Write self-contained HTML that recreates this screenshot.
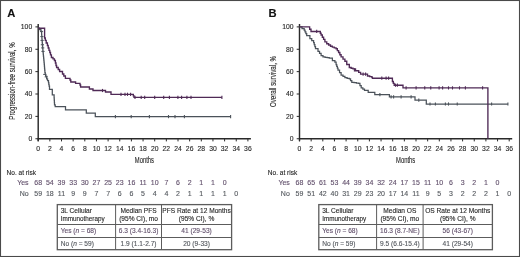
<!DOCTYPE html>
<html><head><meta charset="utf-8"><style>
html,body{margin:0;padding:0;background:#fff;}
svg{display:block;font-family:"Liberation Sans", sans-serif;filter:blur(0.42px);}
</style></head><body>
<svg width="520" height="257" viewBox="0 0 520 257">
<rect x="0" y="0" width="520" height="257" fill="#fff"/>
<text x="7.3" y="16.6" font-size="11.2" font-weight="bold" fill="#111" stroke="#111" stroke-width="0.12">A</text>
<line x1="38.2" y1="24" x2="38.2" y2="141.2" stroke="#2a2a2a" stroke-width="1.45"/>
<line x1="37.6" y1="138.75" x2="250.90" y2="138.75" stroke="#2a2a2a" stroke-width="1.45"/>
<line x1="35.400000000000006" y1="138.75" x2="38.2" y2="138.75" stroke="#2a2a2a" stroke-width="1"/>
<text x="32.2" y="141.15" text-anchor="end" font-size="6.8" fill="#282828" stroke="#282828" stroke-width="0.12">0</text>
<line x1="35.400000000000006" y1="116.38" x2="38.2" y2="116.38" stroke="#2a2a2a" stroke-width="1"/>
<text x="32.2" y="118.78" text-anchor="end" font-size="6.8" fill="#282828" stroke="#282828" stroke-width="0.12">20</text>
<line x1="35.400000000000006" y1="94.01" x2="38.2" y2="94.01" stroke="#2a2a2a" stroke-width="1"/>
<text x="32.2" y="96.41" text-anchor="end" font-size="6.8" fill="#282828" stroke="#282828" stroke-width="0.12">40</text>
<line x1="35.400000000000006" y1="71.64" x2="38.2" y2="71.64" stroke="#2a2a2a" stroke-width="1"/>
<text x="32.2" y="74.04" text-anchor="end" font-size="6.8" fill="#282828" stroke="#282828" stroke-width="0.12">60</text>
<line x1="35.400000000000006" y1="49.27" x2="38.2" y2="49.27" stroke="#2a2a2a" stroke-width="1"/>
<text x="32.2" y="51.67" text-anchor="end" font-size="6.8" fill="#282828" stroke="#282828" stroke-width="0.12">80</text>
<line x1="35.400000000000006" y1="26.90" x2="38.2" y2="26.90" stroke="#2a2a2a" stroke-width="1"/>
<text x="32.2" y="29.30" text-anchor="end" font-size="6.8" fill="#282828" stroke="#282828" stroke-width="0.12">100</text>
<line x1="38.20" y1="138.75" x2="38.20" y2="141.4" stroke="#2a2a2a" stroke-width="1"/>
<text x="38.20" y="150.6" text-anchor="middle" font-size="6.8" fill="#282828" stroke="#282828" stroke-width="0.12">0</text>
<line x1="49.85" y1="138.75" x2="49.85" y2="141.4" stroke="#2a2a2a" stroke-width="1"/>
<text x="49.85" y="150.6" text-anchor="middle" font-size="6.8" fill="#282828" stroke="#282828" stroke-width="0.12">2</text>
<line x1="61.50" y1="138.75" x2="61.50" y2="141.4" stroke="#2a2a2a" stroke-width="1"/>
<text x="61.50" y="150.6" text-anchor="middle" font-size="6.8" fill="#282828" stroke="#282828" stroke-width="0.12">4</text>
<line x1="73.15" y1="138.75" x2="73.15" y2="141.4" stroke="#2a2a2a" stroke-width="1"/>
<text x="73.15" y="150.6" text-anchor="middle" font-size="6.8" fill="#282828" stroke="#282828" stroke-width="0.12">6</text>
<line x1="84.80" y1="138.75" x2="84.80" y2="141.4" stroke="#2a2a2a" stroke-width="1"/>
<text x="84.80" y="150.6" text-anchor="middle" font-size="6.8" fill="#282828" stroke="#282828" stroke-width="0.12">8</text>
<line x1="96.45" y1="138.75" x2="96.45" y2="141.4" stroke="#2a2a2a" stroke-width="1"/>
<text x="96.45" y="150.6" text-anchor="middle" font-size="6.8" fill="#282828" stroke="#282828" stroke-width="0.12">10</text>
<line x1="108.10" y1="138.75" x2="108.10" y2="141.4" stroke="#2a2a2a" stroke-width="1"/>
<text x="108.10" y="150.6" text-anchor="middle" font-size="6.8" fill="#282828" stroke="#282828" stroke-width="0.12">12</text>
<line x1="119.75" y1="138.75" x2="119.75" y2="141.4" stroke="#2a2a2a" stroke-width="1"/>
<text x="119.75" y="150.6" text-anchor="middle" font-size="6.8" fill="#282828" stroke="#282828" stroke-width="0.12">14</text>
<line x1="131.40" y1="138.75" x2="131.40" y2="141.4" stroke="#2a2a2a" stroke-width="1"/>
<text x="131.40" y="150.6" text-anchor="middle" font-size="6.8" fill="#282828" stroke="#282828" stroke-width="0.12">16</text>
<line x1="143.05" y1="138.75" x2="143.05" y2="141.4" stroke="#2a2a2a" stroke-width="1"/>
<text x="143.05" y="150.6" text-anchor="middle" font-size="6.8" fill="#282828" stroke="#282828" stroke-width="0.12">18</text>
<line x1="154.70" y1="138.75" x2="154.70" y2="141.4" stroke="#2a2a2a" stroke-width="1"/>
<text x="154.70" y="150.6" text-anchor="middle" font-size="6.8" fill="#282828" stroke="#282828" stroke-width="0.12">20</text>
<line x1="166.35" y1="138.75" x2="166.35" y2="141.4" stroke="#2a2a2a" stroke-width="1"/>
<text x="166.35" y="150.6" text-anchor="middle" font-size="6.8" fill="#282828" stroke="#282828" stroke-width="0.12">22</text>
<line x1="178.00" y1="138.75" x2="178.00" y2="141.4" stroke="#2a2a2a" stroke-width="1"/>
<text x="178.00" y="150.6" text-anchor="middle" font-size="6.8" fill="#282828" stroke="#282828" stroke-width="0.12">24</text>
<line x1="189.65" y1="138.75" x2="189.65" y2="141.4" stroke="#2a2a2a" stroke-width="1"/>
<text x="189.65" y="150.6" text-anchor="middle" font-size="6.8" fill="#282828" stroke="#282828" stroke-width="0.12">26</text>
<line x1="201.30" y1="138.75" x2="201.30" y2="141.4" stroke="#2a2a2a" stroke-width="1"/>
<text x="201.30" y="150.6" text-anchor="middle" font-size="6.8" fill="#282828" stroke="#282828" stroke-width="0.12">28</text>
<line x1="212.95" y1="138.75" x2="212.95" y2="141.4" stroke="#2a2a2a" stroke-width="1"/>
<text x="212.95" y="150.6" text-anchor="middle" font-size="6.8" fill="#282828" stroke="#282828" stroke-width="0.12">30</text>
<line x1="224.60" y1="138.75" x2="224.60" y2="141.4" stroke="#2a2a2a" stroke-width="1"/>
<text x="224.60" y="150.6" text-anchor="middle" font-size="6.8" fill="#282828" stroke="#282828" stroke-width="0.12">32</text>
<line x1="236.25" y1="138.75" x2="236.25" y2="141.4" stroke="#2a2a2a" stroke-width="1"/>
<text x="236.25" y="150.6" text-anchor="middle" font-size="6.8" fill="#282828" stroke="#282828" stroke-width="0.12">34</text>
<line x1="247.90" y1="138.75" x2="247.90" y2="141.4" stroke="#2a2a2a" stroke-width="1"/>
<text x="247.90" y="150.6" text-anchor="middle" font-size="6.8" fill="#282828" stroke="#282828" stroke-width="0.12">36</text>
<text transform="translate(144.35,162.8) scale(0.68,1)" text-anchor="middle" font-size="8.6" fill="#282828" stroke="#282828" stroke-width="0.12">Months</text>
<text transform="translate(15.0,81) rotate(-90) scale(0.72,1)" text-anchor="middle" font-size="8.6" fill="#282828" stroke="#282828" stroke-width="0.12">Progression-free survival, %</text>
<path d="M38.20,28.20 H39.50V29.50 H40.90V31.00 H41.60V34.00 H41.73V36.00 H41.87V38.00 H42.00V40.00 H42.17V42.00 H42.33V44.00 H42.50V46.00 H42.67V48.00 H42.83V50.00 H43.00V52.00 H43.20V54.00 H43.40V56.00 H43.60V58.00 H43.80V60.00 H44.00V62.00 H44.20V64.00 H44.37V66.00 H44.53V68.00 H44.70V70.00 H44.90V72.50 H45.25V74.25 H45.60V76.00 H46.60V78.80 H47.55V80.65 H48.50V82.50 H48.80V84.25 H49.10V86.00 H49.50V89.30 H52.30 V94.80 H54.10V97.90 H54.23V100.20 H54.37V102.50 H54.50V104.80 H55.20V106.60 H65.50 V109.90 H86.30 V113.20 H95.30 V116.60 H230.60" fill="none" stroke="#4b525a" stroke-width="1.25" stroke-linejoin="miter"/>
<line x1="115.4" y1="115.00" x2="115.4" y2="118.20" stroke="#4b525a" stroke-width="1.1"/>
<line x1="131.2" y1="115.00" x2="131.2" y2="118.20" stroke="#4b525a" stroke-width="1.1"/>
<line x1="149.4" y1="115.00" x2="149.4" y2="118.20" stroke="#4b525a" stroke-width="1.1"/>
<line x1="168.5" y1="115.00" x2="168.5" y2="118.20" stroke="#4b525a" stroke-width="1.1"/>
<line x1="175" y1="115.00" x2="175" y2="118.20" stroke="#4b525a" stroke-width="1.1"/>
<line x1="184.4" y1="115.00" x2="184.4" y2="118.20" stroke="#4b525a" stroke-width="1.1"/>
<line x1="230.6" y1="115.00" x2="230.6" y2="118.20" stroke="#4b525a" stroke-width="1.1"/>
<line x1="39.9" y1="31.6" x2="43.1" y2="31.6" stroke="#4b525a" stroke-width="1"/>
<line x1="40.3" y1="36.6" x2="43.5" y2="36.6" stroke="#4b525a" stroke-width="1"/>
<line x1="40.5" y1="40.4" x2="43.7" y2="40.4" stroke="#4b525a" stroke-width="1"/>
<line x1="40.8" y1="44.75" x2="44.0" y2="44.75" stroke="#4b525a" stroke-width="1"/>
<line x1="41.1" y1="47.9" x2="44.300000000000004" y2="47.9" stroke="#4b525a" stroke-width="1"/>
<line x1="41.4" y1="51.4" x2="44.6" y2="51.4" stroke="#4b525a" stroke-width="1"/>
<line x1="43.199999999999996" y1="74.4" x2="46.4" y2="74.4" stroke="#4b525a" stroke-width="1"/>
<line x1="44.699999999999996" y1="76.9" x2="47.9" y2="76.9" stroke="#4b525a" stroke-width="1"/>
<path d="M38.20,28.20 H44.60 V38.00 H45.30 V40.40 H46.20 V43.00 H47.40 V45.50 H48.20 V48.00 H49.00 V50.40 H49.80 V52.50 H50.50 V54.80 H51.40 V57.50 H53.00 V58.80 H54.40 V60.50 H55.40 V63.00 H56.00 V65.50 H56.60 V67.50 H58.20 V69.50 H59.60 V71.50 H62.50 V74.00 H63.80 V76.00 H65.40 V78.30 H70.00 V80.00 H70.80 V82.00 H75.60 V83.40 H80.00 V85.00 H80.60 V87.00 H89.40 V89.00 H93.00 V90.50 H105.50 V92.00 H111.00 V94.30 H133.30 V95.80 H134.00 V97.30 H221.90" fill="none" stroke="#4f2a56" stroke-width="1.35" stroke-linejoin="miter"/>
<line x1="102.5" y1="88.90" x2="102.5" y2="92.10" stroke="#4f2a56" stroke-width="1.1"/>
<line x1="121" y1="92.70" x2="121" y2="95.90" stroke="#4f2a56" stroke-width="1.1"/>
<line x1="125" y1="92.70" x2="125" y2="95.90" stroke="#4f2a56" stroke-width="1.1"/>
<line x1="127.5" y1="92.70" x2="127.5" y2="95.90" stroke="#4f2a56" stroke-width="1.1"/>
<line x1="130.6" y1="92.70" x2="130.6" y2="95.90" stroke="#4f2a56" stroke-width="1.1"/>
<line x1="135" y1="95.70" x2="135" y2="98.90" stroke="#4f2a56" stroke-width="1.1"/>
<line x1="141.2" y1="95.70" x2="141.2" y2="98.90" stroke="#4f2a56" stroke-width="1.1"/>
<line x1="144.7" y1="95.70" x2="144.7" y2="98.90" stroke="#4f2a56" stroke-width="1.1"/>
<line x1="154.7" y1="95.70" x2="154.7" y2="98.90" stroke="#4f2a56" stroke-width="1.1"/>
<line x1="163.7" y1="95.70" x2="163.7" y2="98.90" stroke="#4f2a56" stroke-width="1.1"/>
<line x1="169.4" y1="95.70" x2="169.4" y2="98.90" stroke="#4f2a56" stroke-width="1.1"/>
<line x1="177.9" y1="95.70" x2="177.9" y2="98.90" stroke="#4f2a56" stroke-width="1.1"/>
<line x1="181.6" y1="95.70" x2="181.6" y2="98.90" stroke="#4f2a56" stroke-width="1.1"/>
<line x1="186.9" y1="95.70" x2="186.9" y2="98.90" stroke="#4f2a56" stroke-width="1.1"/>
<line x1="191" y1="95.70" x2="191" y2="98.90" stroke="#4f2a56" stroke-width="1.1"/>
<line x1="221.9" y1="95.70" x2="221.9" y2="98.90" stroke="#4f2a56" stroke-width="1.1"/>
<text x="6.6" y="175.2" font-size="6.9" fill="#282828" stroke="#282828" stroke-width="0.12" transform="translate(6.6,0) scale(0.95,1) translate(-6.6,0)">No. at risk</text>
<text x="28.6" y="185.3" text-anchor="end" font-size="7" fill="#62506c" stroke="#62506c" stroke-width="0.12">Yes</text>
<text x="28.6" y="196.3" text-anchor="end" font-size="7" fill="#54585e" stroke="#54585e" stroke-width="0.12">No</text>
<text x="38.20" y="185.3" text-anchor="middle" font-size="7" fill="#62506c" stroke="#62506c" stroke-width="0.12">68</text>
<text x="49.85" y="185.3" text-anchor="middle" font-size="7" fill="#62506c" stroke="#62506c" stroke-width="0.12">54</text>
<text x="61.50" y="185.3" text-anchor="middle" font-size="7" fill="#62506c" stroke="#62506c" stroke-width="0.12">39</text>
<text x="73.15" y="185.3" text-anchor="middle" font-size="7" fill="#62506c" stroke="#62506c" stroke-width="0.12">33</text>
<text x="84.80" y="185.3" text-anchor="middle" font-size="7" fill="#62506c" stroke="#62506c" stroke-width="0.12">30</text>
<text x="96.45" y="185.3" text-anchor="middle" font-size="7" fill="#62506c" stroke="#62506c" stroke-width="0.12">27</text>
<text x="108.10" y="185.3" text-anchor="middle" font-size="7" fill="#62506c" stroke="#62506c" stroke-width="0.12">25</text>
<text x="119.75" y="185.3" text-anchor="middle" font-size="7" fill="#62506c" stroke="#62506c" stroke-width="0.12">23</text>
<text x="131.40" y="185.3" text-anchor="middle" font-size="7" fill="#62506c" stroke="#62506c" stroke-width="0.12">16</text>
<text x="143.05" y="185.3" text-anchor="middle" font-size="7" fill="#62506c" stroke="#62506c" stroke-width="0.12">11</text>
<text x="154.70" y="185.3" text-anchor="middle" font-size="7" fill="#62506c" stroke="#62506c" stroke-width="0.12">10</text>
<text x="166.35" y="185.3" text-anchor="middle" font-size="7" fill="#62506c" stroke="#62506c" stroke-width="0.12">7</text>
<text x="178.00" y="185.3" text-anchor="middle" font-size="7" fill="#62506c" stroke="#62506c" stroke-width="0.12">6</text>
<text x="189.65" y="185.3" text-anchor="middle" font-size="7" fill="#62506c" stroke="#62506c" stroke-width="0.12">2</text>
<text x="201.30" y="185.3" text-anchor="middle" font-size="7" fill="#62506c" stroke="#62506c" stroke-width="0.12">1</text>
<text x="212.95" y="185.3" text-anchor="middle" font-size="7" fill="#62506c" stroke="#62506c" stroke-width="0.12">1</text>
<text x="224.60" y="185.3" text-anchor="middle" font-size="7" fill="#62506c" stroke="#62506c" stroke-width="0.12">0</text>
<text x="38.20" y="196.3" text-anchor="middle" font-size="7" fill="#54585e" stroke="#54585e" stroke-width="0.12">59</text>
<text x="49.85" y="196.3" text-anchor="middle" font-size="7" fill="#54585e" stroke="#54585e" stroke-width="0.12">18</text>
<text x="61.50" y="196.3" text-anchor="middle" font-size="7" fill="#54585e" stroke="#54585e" stroke-width="0.12">11</text>
<text x="73.15" y="196.3" text-anchor="middle" font-size="7" fill="#54585e" stroke="#54585e" stroke-width="0.12">9</text>
<text x="84.80" y="196.3" text-anchor="middle" font-size="7" fill="#54585e" stroke="#54585e" stroke-width="0.12">9</text>
<text x="96.45" y="196.3" text-anchor="middle" font-size="7" fill="#54585e" stroke="#54585e" stroke-width="0.12">7</text>
<text x="108.10" y="196.3" text-anchor="middle" font-size="7" fill="#54585e" stroke="#54585e" stroke-width="0.12">7</text>
<text x="119.75" y="196.3" text-anchor="middle" font-size="7" fill="#54585e" stroke="#54585e" stroke-width="0.12">6</text>
<text x="131.40" y="196.3" text-anchor="middle" font-size="7" fill="#54585e" stroke="#54585e" stroke-width="0.12">6</text>
<text x="143.05" y="196.3" text-anchor="middle" font-size="7" fill="#54585e" stroke="#54585e" stroke-width="0.12">5</text>
<text x="154.70" y="196.3" text-anchor="middle" font-size="7" fill="#54585e" stroke="#54585e" stroke-width="0.12">4</text>
<text x="166.35" y="196.3" text-anchor="middle" font-size="7" fill="#54585e" stroke="#54585e" stroke-width="0.12">4</text>
<text x="178.00" y="196.3" text-anchor="middle" font-size="7" fill="#54585e" stroke="#54585e" stroke-width="0.12">2</text>
<text x="189.65" y="196.3" text-anchor="middle" font-size="7" fill="#54585e" stroke="#54585e" stroke-width="0.12">1</text>
<text x="201.30" y="196.3" text-anchor="middle" font-size="7" fill="#54585e" stroke="#54585e" stroke-width="0.12">1</text>
<text x="212.95" y="196.3" text-anchor="middle" font-size="7" fill="#54585e" stroke="#54585e" stroke-width="0.12">1</text>
<text x="224.60" y="196.3" text-anchor="middle" font-size="7" fill="#54585e" stroke="#54585e" stroke-width="0.12">1</text>
<text x="236.25" y="196.3" text-anchor="middle" font-size="7" fill="#54585e" stroke="#54585e" stroke-width="0.12">0</text>
<rect x="57.3" y="204.6" width="174.3" height="45.099999999999994" fill="none" stroke="#5c5c5c" stroke-width="1.3"/>
<line x1="57.3" y1="224.5" x2="231.6" y2="224.5" stroke="#5c5c5c" stroke-width="1.2"/>
<line x1="57.3" y1="237.5" x2="231.6" y2="237.5" stroke="#5c5c5c" stroke-width="1.2"/>
<line x1="115.6" y1="204.6" x2="115.6" y2="249.7" stroke="#5c5c5c" stroke-width="1"/>
<line x1="161.5" y1="204.6" x2="161.5" y2="249.7" stroke="#5c5c5c" stroke-width="1"/>
<text x="60.699999999999996" y="213.4" font-size="6.6" fill="#282828" stroke="#282828" stroke-width="0.12">3L Cellular</text>
<text x="60.699999999999996" y="221.2" font-size="6.6" fill="#282828" stroke="#282828" stroke-width="0.12" textLength="44" lengthAdjust="spacingAndGlyphs">Immunotherapy</text>
<text x="138.55" y="213.4" text-anchor="middle" font-size="6.6" fill="#282828" stroke="#282828" stroke-width="0.12">Median PFS</text>
<text x="138.55" y="221.2" text-anchor="middle" font-size="6.6" fill="#282828" stroke="#282828" stroke-width="0.12">(95% CI), mo</text>
<text x="196.55" y="213.4" text-anchor="middle" font-size="6.6" fill="#282828" stroke="#282828" stroke-width="0.12">PFS Rate at 12 Months</text>
<text x="196.55" y="221.2" text-anchor="middle" font-size="6.6" fill="#282828" stroke="#282828" stroke-width="0.12">(95% CI), %</text>
<text x="60.699999999999996" y="233.4" font-size="6.6" fill="#62506c" stroke="#62506c" stroke-width="0.12">Yes (<tspan font-style="italic">n</tspan> = 68)</text>
<text x="60.699999999999996" y="245.9" font-size="6.6" fill="#54585e" stroke="#54585e" stroke-width="0.12">No (<tspan font-style="italic">n</tspan> = 59)</text>
<text x="138.55" y="233.4" text-anchor="middle" font-size="6.6" fill="#62506c" stroke="#62506c" stroke-width="0.12">6.3 (3.4-16.3)</text>
<text x="196.55" y="233.4" text-anchor="middle" font-size="6.6" fill="#62506c" stroke="#62506c" stroke-width="0.12">41 (29-53)</text>
<text x="138.55" y="245.9" text-anchor="middle" font-size="6.6" fill="#54585e" stroke="#54585e" stroke-width="0.12">1.9 (1.1-2.7)</text>
<text x="196.55" y="245.9" text-anchor="middle" font-size="6.6" fill="#54585e" stroke="#54585e" stroke-width="0.12">20 (9-33)</text>
<text x="268.6" y="16.6" font-size="11.2" font-weight="bold" fill="#111" stroke="#111" stroke-width="0.12">B</text>
<line x1="299.5" y1="24" x2="299.5" y2="141.2" stroke="#2a2a2a" stroke-width="1.45"/>
<line x1="298.9" y1="138.75" x2="512.20" y2="138.75" stroke="#2a2a2a" stroke-width="1.45"/>
<line x1="296.7" y1="138.75" x2="299.5" y2="138.75" stroke="#2a2a2a" stroke-width="1"/>
<text x="293.5" y="141.15" text-anchor="end" font-size="6.8" fill="#282828" stroke="#282828" stroke-width="0.12">0</text>
<line x1="296.7" y1="116.38" x2="299.5" y2="116.38" stroke="#2a2a2a" stroke-width="1"/>
<text x="293.5" y="118.78" text-anchor="end" font-size="6.8" fill="#282828" stroke="#282828" stroke-width="0.12">20</text>
<line x1="296.7" y1="94.01" x2="299.5" y2="94.01" stroke="#2a2a2a" stroke-width="1"/>
<text x="293.5" y="96.41" text-anchor="end" font-size="6.8" fill="#282828" stroke="#282828" stroke-width="0.12">40</text>
<line x1="296.7" y1="71.64" x2="299.5" y2="71.64" stroke="#2a2a2a" stroke-width="1"/>
<text x="293.5" y="74.04" text-anchor="end" font-size="6.8" fill="#282828" stroke="#282828" stroke-width="0.12">60</text>
<line x1="296.7" y1="49.27" x2="299.5" y2="49.27" stroke="#2a2a2a" stroke-width="1"/>
<text x="293.5" y="51.67" text-anchor="end" font-size="6.8" fill="#282828" stroke="#282828" stroke-width="0.12">80</text>
<line x1="296.7" y1="26.90" x2="299.5" y2="26.90" stroke="#2a2a2a" stroke-width="1"/>
<text x="293.5" y="29.30" text-anchor="end" font-size="6.8" fill="#282828" stroke="#282828" stroke-width="0.12">100</text>
<line x1="299.50" y1="138.75" x2="299.50" y2="141.4" stroke="#2a2a2a" stroke-width="1"/>
<text x="299.50" y="150.6" text-anchor="middle" font-size="6.8" fill="#282828" stroke="#282828" stroke-width="0.12">0</text>
<line x1="311.15" y1="138.75" x2="311.15" y2="141.4" stroke="#2a2a2a" stroke-width="1"/>
<text x="311.15" y="150.6" text-anchor="middle" font-size="6.8" fill="#282828" stroke="#282828" stroke-width="0.12">2</text>
<line x1="322.80" y1="138.75" x2="322.80" y2="141.4" stroke="#2a2a2a" stroke-width="1"/>
<text x="322.80" y="150.6" text-anchor="middle" font-size="6.8" fill="#282828" stroke="#282828" stroke-width="0.12">4</text>
<line x1="334.45" y1="138.75" x2="334.45" y2="141.4" stroke="#2a2a2a" stroke-width="1"/>
<text x="334.45" y="150.6" text-anchor="middle" font-size="6.8" fill="#282828" stroke="#282828" stroke-width="0.12">6</text>
<line x1="346.10" y1="138.75" x2="346.10" y2="141.4" stroke="#2a2a2a" stroke-width="1"/>
<text x="346.10" y="150.6" text-anchor="middle" font-size="6.8" fill="#282828" stroke="#282828" stroke-width="0.12">8</text>
<line x1="357.75" y1="138.75" x2="357.75" y2="141.4" stroke="#2a2a2a" stroke-width="1"/>
<text x="357.75" y="150.6" text-anchor="middle" font-size="6.8" fill="#282828" stroke="#282828" stroke-width="0.12">10</text>
<line x1="369.40" y1="138.75" x2="369.40" y2="141.4" stroke="#2a2a2a" stroke-width="1"/>
<text x="369.40" y="150.6" text-anchor="middle" font-size="6.8" fill="#282828" stroke="#282828" stroke-width="0.12">12</text>
<line x1="381.05" y1="138.75" x2="381.05" y2="141.4" stroke="#2a2a2a" stroke-width="1"/>
<text x="381.05" y="150.6" text-anchor="middle" font-size="6.8" fill="#282828" stroke="#282828" stroke-width="0.12">14</text>
<line x1="392.70" y1="138.75" x2="392.70" y2="141.4" stroke="#2a2a2a" stroke-width="1"/>
<text x="392.70" y="150.6" text-anchor="middle" font-size="6.8" fill="#282828" stroke="#282828" stroke-width="0.12">16</text>
<line x1="404.35" y1="138.75" x2="404.35" y2="141.4" stroke="#2a2a2a" stroke-width="1"/>
<text x="404.35" y="150.6" text-anchor="middle" font-size="6.8" fill="#282828" stroke="#282828" stroke-width="0.12">18</text>
<line x1="416.00" y1="138.75" x2="416.00" y2="141.4" stroke="#2a2a2a" stroke-width="1"/>
<text x="416.00" y="150.6" text-anchor="middle" font-size="6.8" fill="#282828" stroke="#282828" stroke-width="0.12">20</text>
<line x1="427.65" y1="138.75" x2="427.65" y2="141.4" stroke="#2a2a2a" stroke-width="1"/>
<text x="427.65" y="150.6" text-anchor="middle" font-size="6.8" fill="#282828" stroke="#282828" stroke-width="0.12">22</text>
<line x1="439.30" y1="138.75" x2="439.30" y2="141.4" stroke="#2a2a2a" stroke-width="1"/>
<text x="439.30" y="150.6" text-anchor="middle" font-size="6.8" fill="#282828" stroke="#282828" stroke-width="0.12">24</text>
<line x1="450.95" y1="138.75" x2="450.95" y2="141.4" stroke="#2a2a2a" stroke-width="1"/>
<text x="450.95" y="150.6" text-anchor="middle" font-size="6.8" fill="#282828" stroke="#282828" stroke-width="0.12">26</text>
<line x1="462.60" y1="138.75" x2="462.60" y2="141.4" stroke="#2a2a2a" stroke-width="1"/>
<text x="462.60" y="150.6" text-anchor="middle" font-size="6.8" fill="#282828" stroke="#282828" stroke-width="0.12">28</text>
<line x1="474.25" y1="138.75" x2="474.25" y2="141.4" stroke="#2a2a2a" stroke-width="1"/>
<text x="474.25" y="150.6" text-anchor="middle" font-size="6.8" fill="#282828" stroke="#282828" stroke-width="0.12">30</text>
<line x1="485.90" y1="138.75" x2="485.90" y2="141.4" stroke="#2a2a2a" stroke-width="1"/>
<text x="485.90" y="150.6" text-anchor="middle" font-size="6.8" fill="#282828" stroke="#282828" stroke-width="0.12">32</text>
<line x1="497.55" y1="138.75" x2="497.55" y2="141.4" stroke="#2a2a2a" stroke-width="1"/>
<text x="497.55" y="150.6" text-anchor="middle" font-size="6.8" fill="#282828" stroke="#282828" stroke-width="0.12">34</text>
<line x1="509.20" y1="138.75" x2="509.20" y2="141.4" stroke="#2a2a2a" stroke-width="1"/>
<text x="509.20" y="150.6" text-anchor="middle" font-size="6.8" fill="#282828" stroke="#282828" stroke-width="0.12">36</text>
<text transform="translate(405.65,162.8) scale(0.68,1)" text-anchor="middle" font-size="8.6" fill="#282828" stroke="#282828" stroke-width="0.12">Months</text>
<text transform="translate(275.9,81.5) rotate(-90) scale(0.72,1)" text-anchor="middle" font-size="8.6" fill="#282828" stroke="#282828" stroke-width="0.12">Overall survival, %</text>
<path d="M299.50,26.90 H302.00V28.50 H304.20V30.00 H305.03V31.87 H305.87V33.73 H306.70V35.60 H309.90V38.70 H311.75V40.60 H313.60V42.50 H314.23V44.57 H314.87V46.63 H315.50V48.70 H318.00V51.30 H319.55V53.45 H321.10V55.60 H323.00V56.90 H325.08V57.30 H327.17V57.70 H329.25V58.10 H332.40V60.60 H334.90V62.00 H336.10V64.50 H336.73V66.37 H337.37V68.23 H338.00V70.10 H339.55V72.60 H341.10V75.10 H343.00V76.35 H344.90V77.60 H347.10V78.25 H349.30V78.90 H350.55V80.65 H351.80V82.40 H354.10V82.73 H356.40V83.07 H358.70V83.40 H359.95V85.60 H361.20V87.80 H362.85V89.05 H364.50V90.30 H368.20 V92.40 H374.80 V94.60 H389.40 V96.80 H415.00 V100.10 H426.30 V104.00 H507.90" fill="none" stroke="#4b525a" stroke-width="1.25" stroke-linejoin="miter"/>
<line x1="379.9" y1="93.00" x2="379.9" y2="96.20" stroke="#4b525a" stroke-width="1.1"/>
<line x1="391.1" y1="95.20" x2="391.1" y2="98.40" stroke="#4b525a" stroke-width="1.1"/>
<line x1="393.6" y1="95.20" x2="393.6" y2="98.40" stroke="#4b525a" stroke-width="1.1"/>
<line x1="401.1" y1="95.20" x2="401.1" y2="98.40" stroke="#4b525a" stroke-width="1.1"/>
<line x1="411.1" y1="95.20" x2="411.1" y2="98.40" stroke="#4b525a" stroke-width="1.1"/>
<line x1="418.8" y1="98.50" x2="418.8" y2="101.70" stroke="#4b525a" stroke-width="1.1"/>
<line x1="430" y1="102.40" x2="430" y2="105.60" stroke="#4b525a" stroke-width="1.1"/>
<line x1="435.4" y1="102.40" x2="435.4" y2="105.60" stroke="#4b525a" stroke-width="1.1"/>
<line x1="445.4" y1="102.40" x2="445.4" y2="105.60" stroke="#4b525a" stroke-width="1.1"/>
<line x1="448.5" y1="102.40" x2="448.5" y2="105.60" stroke="#4b525a" stroke-width="1.1"/>
<line x1="457.25" y1="102.40" x2="457.25" y2="105.60" stroke="#4b525a" stroke-width="1.1"/>
<line x1="491.6" y1="102.40" x2="491.6" y2="105.60" stroke="#4b525a" stroke-width="1.1"/>
<line x1="507.9" y1="102.40" x2="507.9" y2="105.60" stroke="#4b525a" stroke-width="1.1"/>
<path d="M299.50,26.90 H308.30 H309.65V29.20 H311.00V31.50 H319.50 H320.30V33.25 H321.10V35.00 H322.35V37.20 H323.60V39.40 H324.90V41.90 H326.75V43.75 H328.62V45.00 H330.50V46.25 H332.37V47.08 H334.23V47.92 H336.10V48.75 H337.35V50.62 H338.60V52.50 H339.85V54.70 H341.10V56.90 H343.00V59.08 H344.90V61.25 H346.75V64.50 H349.30V67.50 H351.15V68.20 H353.00V68.90 H355.50V70.75 H358.70V72.40 H360.60V74.10 H366.20 H367.50V76.00 H369.70V76.65 H371.90V77.30 H372.40V78.20 H390.00 H392.40V81.50 H393.30V83.35 H394.20V85.20 H401.10 H403.00V87.90 H487.90 V138.75" fill="none" stroke="#4f2a56" stroke-width="1.35" stroke-linejoin="miter"/>
<line x1="316.7" y1="29.70" x2="316.7" y2="32.90" stroke="#4f2a56" stroke-width="1.1"/>
<line x1="354.4" y1="68.20" x2="354.4" y2="71.40" stroke="#4f2a56" stroke-width="1.1"/>
<line x1="363.1" y1="72.50" x2="363.1" y2="75.70" stroke="#4f2a56" stroke-width="1.1"/>
<line x1="365.6" y1="72.50" x2="365.6" y2="75.70" stroke="#4f2a56" stroke-width="1.1"/>
<line x1="381.8" y1="76.60" x2="381.8" y2="79.80" stroke="#4f2a56" stroke-width="1.1"/>
<line x1="386.1" y1="76.60" x2="386.1" y2="79.80" stroke="#4f2a56" stroke-width="1.1"/>
<line x1="388.6" y1="76.60" x2="388.6" y2="79.80" stroke="#4f2a56" stroke-width="1.1"/>
<line x1="395.5" y1="83.60" x2="395.5" y2="86.80" stroke="#4f2a56" stroke-width="1.1"/>
<line x1="397.4" y1="83.60" x2="397.4" y2="86.80" stroke="#4f2a56" stroke-width="1.1"/>
<line x1="406.1" y1="86.30" x2="406.1" y2="89.50" stroke="#4f2a56" stroke-width="1.1"/>
<line x1="416.1" y1="86.30" x2="416.1" y2="89.50" stroke="#4f2a56" stroke-width="1.1"/>
<line x1="424.75" y1="86.30" x2="424.75" y2="89.50" stroke="#4f2a56" stroke-width="1.1"/>
<line x1="430.75" y1="86.30" x2="430.75" y2="89.50" stroke="#4f2a56" stroke-width="1.1"/>
<line x1="439.1" y1="86.30" x2="439.1" y2="89.50" stroke="#4f2a56" stroke-width="1.1"/>
<line x1="442.6" y1="86.30" x2="442.6" y2="89.50" stroke="#4f2a56" stroke-width="1.1"/>
<line x1="448.5" y1="86.30" x2="448.5" y2="89.50" stroke="#4f2a56" stroke-width="1.1"/>
<line x1="452.5" y1="86.30" x2="452.5" y2="89.50" stroke="#4f2a56" stroke-width="1.1"/>
<line x1="459.5" y1="86.30" x2="459.5" y2="89.50" stroke="#4f2a56" stroke-width="1.1"/>
<line x1="465.4" y1="86.30" x2="465.4" y2="89.50" stroke="#4f2a56" stroke-width="1.1"/>
<line x1="482.6" y1="86.30" x2="482.6" y2="89.50" stroke="#4f2a56" stroke-width="1.1"/>
<text x="267.8" y="175.2" font-size="6.9" fill="#282828" stroke="#282828" stroke-width="0.12" transform="translate(267.8,0) scale(0.95,1) translate(-267.8,0)">No. at risk</text>
<text x="289.8" y="185.3" text-anchor="end" font-size="7" fill="#62506c" stroke="#62506c" stroke-width="0.12">Yes</text>
<text x="289.8" y="196.3" text-anchor="end" font-size="7" fill="#54585e" stroke="#54585e" stroke-width="0.12">No</text>
<text x="299.50" y="185.3" text-anchor="middle" font-size="7" fill="#62506c" stroke="#62506c" stroke-width="0.12">68</text>
<text x="311.15" y="185.3" text-anchor="middle" font-size="7" fill="#62506c" stroke="#62506c" stroke-width="0.12">65</text>
<text x="322.80" y="185.3" text-anchor="middle" font-size="7" fill="#62506c" stroke="#62506c" stroke-width="0.12">61</text>
<text x="334.45" y="185.3" text-anchor="middle" font-size="7" fill="#62506c" stroke="#62506c" stroke-width="0.12">53</text>
<text x="346.10" y="185.3" text-anchor="middle" font-size="7" fill="#62506c" stroke="#62506c" stroke-width="0.12">44</text>
<text x="357.75" y="185.3" text-anchor="middle" font-size="7" fill="#62506c" stroke="#62506c" stroke-width="0.12">39</text>
<text x="369.40" y="185.3" text-anchor="middle" font-size="7" fill="#62506c" stroke="#62506c" stroke-width="0.12">34</text>
<text x="381.05" y="185.3" text-anchor="middle" font-size="7" fill="#62506c" stroke="#62506c" stroke-width="0.12">32</text>
<text x="392.70" y="185.3" text-anchor="middle" font-size="7" fill="#62506c" stroke="#62506c" stroke-width="0.12">24</text>
<text x="404.35" y="185.3" text-anchor="middle" font-size="7" fill="#62506c" stroke="#62506c" stroke-width="0.12">17</text>
<text x="416.00" y="185.3" text-anchor="middle" font-size="7" fill="#62506c" stroke="#62506c" stroke-width="0.12">15</text>
<text x="427.65" y="185.3" text-anchor="middle" font-size="7" fill="#62506c" stroke="#62506c" stroke-width="0.12">11</text>
<text x="439.30" y="185.3" text-anchor="middle" font-size="7" fill="#62506c" stroke="#62506c" stroke-width="0.12">10</text>
<text x="450.95" y="185.3" text-anchor="middle" font-size="7" fill="#62506c" stroke="#62506c" stroke-width="0.12">6</text>
<text x="462.60" y="185.3" text-anchor="middle" font-size="7" fill="#62506c" stroke="#62506c" stroke-width="0.12">3</text>
<text x="474.25" y="185.3" text-anchor="middle" font-size="7" fill="#62506c" stroke="#62506c" stroke-width="0.12">2</text>
<text x="485.90" y="185.3" text-anchor="middle" font-size="7" fill="#62506c" stroke="#62506c" stroke-width="0.12">1</text>
<text x="497.55" y="185.3" text-anchor="middle" font-size="7" fill="#62506c" stroke="#62506c" stroke-width="0.12">0</text>
<text x="299.50" y="196.3" text-anchor="middle" font-size="7" fill="#54585e" stroke="#54585e" stroke-width="0.12">59</text>
<text x="311.15" y="196.3" text-anchor="middle" font-size="7" fill="#54585e" stroke="#54585e" stroke-width="0.12">51</text>
<text x="322.80" y="196.3" text-anchor="middle" font-size="7" fill="#54585e" stroke="#54585e" stroke-width="0.12">42</text>
<text x="334.45" y="196.3" text-anchor="middle" font-size="7" fill="#54585e" stroke="#54585e" stroke-width="0.12">40</text>
<text x="346.10" y="196.3" text-anchor="middle" font-size="7" fill="#54585e" stroke="#54585e" stroke-width="0.12">31</text>
<text x="357.75" y="196.3" text-anchor="middle" font-size="7" fill="#54585e" stroke="#54585e" stroke-width="0.12">29</text>
<text x="369.40" y="196.3" text-anchor="middle" font-size="7" fill="#54585e" stroke="#54585e" stroke-width="0.12">23</text>
<text x="381.05" y="196.3" text-anchor="middle" font-size="7" fill="#54585e" stroke="#54585e" stroke-width="0.12">20</text>
<text x="392.70" y="196.3" text-anchor="middle" font-size="7" fill="#54585e" stroke="#54585e" stroke-width="0.12">17</text>
<text x="404.35" y="196.3" text-anchor="middle" font-size="7" fill="#54585e" stroke="#54585e" stroke-width="0.12">14</text>
<text x="416.00" y="196.3" text-anchor="middle" font-size="7" fill="#54585e" stroke="#54585e" stroke-width="0.12">11</text>
<text x="427.65" y="196.3" text-anchor="middle" font-size="7" fill="#54585e" stroke="#54585e" stroke-width="0.12">9</text>
<text x="439.30" y="196.3" text-anchor="middle" font-size="7" fill="#54585e" stroke="#54585e" stroke-width="0.12">5</text>
<text x="450.95" y="196.3" text-anchor="middle" font-size="7" fill="#54585e" stroke="#54585e" stroke-width="0.12">3</text>
<text x="462.60" y="196.3" text-anchor="middle" font-size="7" fill="#54585e" stroke="#54585e" stroke-width="0.12">2</text>
<text x="474.25" y="196.3" text-anchor="middle" font-size="7" fill="#54585e" stroke="#54585e" stroke-width="0.12">2</text>
<text x="485.90" y="196.3" text-anchor="middle" font-size="7" fill="#54585e" stroke="#54585e" stroke-width="0.12">2</text>
<text x="497.55" y="196.3" text-anchor="middle" font-size="7" fill="#54585e" stroke="#54585e" stroke-width="0.12">1</text>
<text x="509.20" y="196.3" text-anchor="middle" font-size="7" fill="#54585e" stroke="#54585e" stroke-width="0.12">0</text>
<rect x="318.8" y="204.6" width="173.59999999999997" height="45.099999999999994" fill="none" stroke="#5c5c5c" stroke-width="1.3"/>
<line x1="318.8" y1="224.5" x2="492.4" y2="224.5" stroke="#5c5c5c" stroke-width="1.2"/>
<line x1="318.8" y1="237.5" x2="492.4" y2="237.5" stroke="#5c5c5c" stroke-width="1.2"/>
<line x1="376.6" y1="204.6" x2="376.6" y2="249.7" stroke="#5c5c5c" stroke-width="1"/>
<line x1="423.1" y1="204.6" x2="423.1" y2="249.7" stroke="#5c5c5c" stroke-width="1"/>
<text x="322.2" y="213.4" font-size="6.6" fill="#282828" stroke="#282828" stroke-width="0.12">3L Cellular</text>
<text x="322.2" y="221.2" font-size="6.6" fill="#282828" stroke="#282828" stroke-width="0.12" textLength="44" lengthAdjust="spacingAndGlyphs">Immunotherapy</text>
<text x="399.85" y="213.4" text-anchor="middle" font-size="6.6" fill="#282828" stroke="#282828" stroke-width="0.12">Median OS</text>
<text x="399.85" y="221.2" text-anchor="middle" font-size="6.6" fill="#282828" stroke="#282828" stroke-width="0.12">(95% CI), mo</text>
<text x="457.75" y="213.4" text-anchor="middle" font-size="6.6" fill="#282828" stroke="#282828" stroke-width="0.12">OS Rate at 12 Months</text>
<text x="457.75" y="221.2" text-anchor="middle" font-size="6.6" fill="#282828" stroke="#282828" stroke-width="0.12">(95% CI), %</text>
<text x="322.2" y="233.4" font-size="6.6" fill="#62506c" stroke="#62506c" stroke-width="0.12">Yes (<tspan font-style="italic">n</tspan> = 68)</text>
<text x="322.2" y="245.9" font-size="6.6" fill="#54585e" stroke="#54585e" stroke-width="0.12">No (<tspan font-style="italic">n</tspan> = 59)</text>
<text x="399.85" y="233.4" text-anchor="middle" font-size="6.6" fill="#62506c" stroke="#62506c" stroke-width="0.12">16.3 (8.7-NE)</text>
<text x="457.75" y="233.4" text-anchor="middle" font-size="6.6" fill="#62506c" stroke="#62506c" stroke-width="0.12">56 (43-67)</text>
<text x="399.85" y="245.9" text-anchor="middle" font-size="6.6" fill="#54585e" stroke="#54585e" stroke-width="0.12">9.5 (6.6-15.4)</text>
<text x="457.75" y="245.9" text-anchor="middle" font-size="6.6" fill="#54585e" stroke="#54585e" stroke-width="0.12">41 (29-54)</text>
<rect x="0.5" y="0.5" width="519" height="256" fill="none" stroke="#4a4a4a" stroke-width="1.1"/>
</svg>
</body></html>
